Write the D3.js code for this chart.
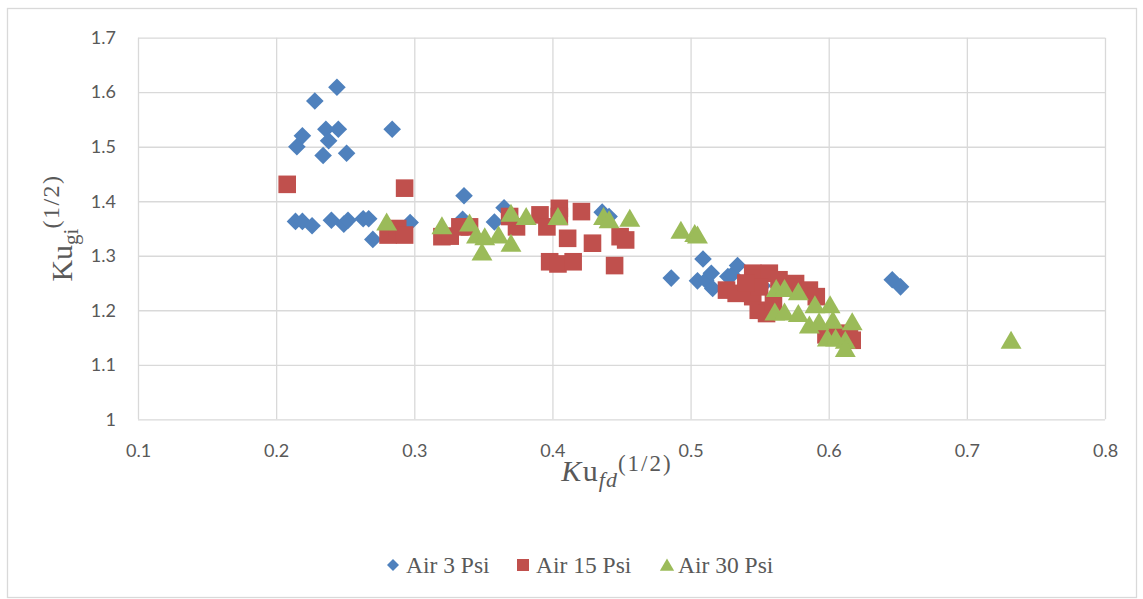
<!DOCTYPE html>
<html>
<head>
<meta charset="utf-8">
<script src="https://cdn.jsdelivr.net/npm/d3@7"></script>
<style>
body{margin:0;background:#fff;}
.tick text{font-family:Lato,"Open Sans",sans-serif;font-size:18px;fill:#595959;}
</style>
</head>
<body>
<div id="chart-area"></div>
<script>
// chart values
const xTicks = [0.1,0.2,0.3,0.4,0.5,0.6,0.7,0.8]
const yTicks = [1,1.1,1.2,1.3,1.4,1.5,1.6,1.7]

const air3X = [0.244,0.228,0.236,0.245,0.284,0.219,0.215,0.238,0.234,0.251,
	0.214,0.219,0.226,0.240,0.249,0.252,0.263,0.267,0.270,0.297,
	0.336,0.335,0.358,0.365,0.436,0.441,0.486,0.509,0.505,0.511,
	0.515,0.516,0.527,0.530,0.534,0.552,0.646,0.652]
const air3Y = [1.609,1.584,1.532,1.532,1.532,1.520,1.500,1.511,1.484,1.488,
	1.363,1.363,1.355,1.365,1.358,1.365,1.368,1.368,1.330,1.361,
	1.410,1.367,1.362,1.388,1.380,1.372,1.259,1.294,1.254,1.255,
	1.268,1.240,1.262,1.265,1.282,1.245,1.256,1.243]

const air15X = [0.208,0.293,0.281,0.288,0.293,0.320,0.326,0.333,0.340,0.369,
	0.374,0.391,0.396,0.405,0.405,0.421,0.411,0.429,0.449,0.453,
	0.398,0.404,0.415,0.445,0.526,0.533,0.545,0.547,0.557,0.545,
	0.549,0.555,0.550,0.564,0.576,0.586,0.591,0.574,0.598,0.603,
	0.615,0.617,0.560,0.540]
const air15Y = [1.431,1.424,1.338,1.350,1.338,1.335,1.336,1.353,1.353,1.372,
	1.353,1.375,1.353,1.387,1.372,1.381,1.332,1.323,1.335,1.329,
	1.289,1.285,1.289,1.282,1.237,1.231,1.268,1.258,1.268,1.225,
	1.200,1.194,1.243,1.256,1.249,1.237,1.225,1.243,1.155,1.152,
	1.158,1.145,1.215,1.250]

const air30X = [0.280,0.320,0.340,0.345,0.349,0.351,0.361,0.370,0.370,0.381,
	0.404,0.437,0.441,0.456,0.493,0.503,0.505,0.562,0.568,0.578,
	0.561,0.568,0.578,0.590,0.601,0.586,0.593,0.603,0.617,0.599,
	0.605,0.612,0.612,0.732]
const air30Y = [1.362,1.355,1.360,1.338,1.307,1.335,1.338,1.323,1.378,1.372,
	1.372,1.372,1.366,1.369,1.347,1.341,1.338,1.240,1.240,1.234,
	1.197,1.197,1.194,1.210,1.210,1.173,1.179,1.182,1.179,1.149,
	1.149,1.145,1.130,1.145]

const series = [
	{name:"Air 3 Psi",xs:air3X,ys:air3Y,color:"#4f81bd",shape:"diamond"},
	{name:"Air 15 Psi",xs:air15X,ys:air15Y,color:"#c0504d",shape:"square"},
	{name:"Air 30 Psi",xs:air30X,ys:air30Y,color:"#9bbb59",shape:"triangle"}
]

const MARGIN = {LEFT:138,TOP:37.7}
const WIDTH = 967
const HEIGHT = 381.6

const svg = d3.select("#chart-area").append("svg")
	.attr("width",1143)
	.attr("height",599)

svg.append("rect")
	.attr("x",7.5).attr("y",8.5)
	.attr("width",1129).attr("height",589)
	.attr("fill","#fff")
	.attr("stroke","#d9d9d9")
	.attr("stroke-width",1.3)

const g = svg.append("g")
	.attr("transform",`translate(${MARGIN.LEFT},${MARGIN.TOP})`)

const x = d3.scaleLinear().domain([0.1,0.8]).range([0,WIDTH])
const y = d3.scaleLinear().domain([1,1.7]).range([HEIGHT,0])

const xAxisCall = d3.axisBottom(x)
	.tickValues(xTicks)
	.tickSize(-HEIGHT)
	.tickPadding(25)
	.tickFormat(d=>d3.format(".1f")(d))
const yAxisCall = d3.axisLeft(y)
	.tickValues(yTicks)
	.tickSize(-WIDTH)
	.tickPadding(22)
	.tickFormat(d=>d===1?"1":d3.format(".1f")(d))

const xAxisGroup = g.append("g")
	.attr("transform",`translate(0,${HEIGHT})`)
	.call(xAxisCall)
const yAxisGroup = g.append("g").call(yAxisCall)

;[xAxisGroup,yAxisGroup].forEach(ax=>{
	ax.select(".domain").remove()
	ax.selectAll("line").attr("stroke","#d9d9d9").attr("stroke-width",1.3)
})

// marker shapes, sized like the excel markers
function markerPath(shape,s){
	if(shape==="diamond") return `M0,${-s}L${s},0L0,${s}L${-s},0Z`
	if(shape==="square") return `M${-s},${-s}H${s}V${s}H${-s}Z`
	return `M0,${-s}L${s*1.1},${s*0.9}H${-s*1.1}Z`
}
const markerSize = {diamond:8.8,square:8.8,triangle:9.5}

series.forEach(sr=>{
	const pts = sr.xs.map((v,i)=>({x:v,y:sr.ys[i]}))
	g.append("g").selectAll("path")
		.data(pts)
		.enter().append("path")
		.attr("transform",d=>`translate(${x(d.x)},${y(d.y)})`)
		.attr("d",markerPath(sr.shape,markerSize[sr.shape]))
		.attr("fill",sr.color)
})

// axis titles
const xLabel = svg.append("text")
	.attr("x",617)
	.attr("y",481)
	.attr("text-anchor","middle")
	.attr("font-family","'Liberation Serif',serif")
	.attr("font-size","30px")
	.attr("fill","#595959")
xLabel.append("tspan").attr("font-style","italic").attr("letter-spacing","1.5px").text("K")
xLabel.append("tspan").attr("letter-spacing","1px").text("u")
xLabel.append("tspan").attr("font-style","italic").attr("font-size","22px").attr("letter-spacing","1px").attr("dy",6).text("fd")
xLabel.append("tspan").attr("font-size","23px").attr("letter-spacing","2px").attr("dy",-16).text("(1/2)")

const yLabel = svg.append("text")
	.attr("transform","translate(72,228) rotate(-90)")
	.attr("text-anchor","middle")
	.attr("font-family","'Liberation Serif',serif")
	.attr("font-size","30px")
	.attr("fill","#595959")
yLabel.append("tspan").text("Ku")
yLabel.append("tspan").attr("font-size","21px").attr("dy",6).text("gi")
yLabel.append("tspan").attr("font-size","24px").attr("letter-spacing","1.5px").attr("dy",-19).text("(1/2)")

// legend
const legendX = [393,523,667]
const legend = svg.append("g")
series.forEach((sr,i)=>{
	const row = legend.append("g").attr("transform",`translate(${legendX[i]},565)`)
	row.append("path")
		.attr("d",markerPath(sr.shape,sr.shape==="triangle"?6.5:6))
		.attr("fill",sr.color)
	row.append("text")
		.attr("x",sr.shape==="triangle"?11:13)
		.attr("y",7.5)
		.attr("font-family","'Liberation Serif',serif")
		.attr("font-size","23.5px")
		.attr("fill","#595959")
		.text(sr.name)
})
</script>
</body>
</html>
